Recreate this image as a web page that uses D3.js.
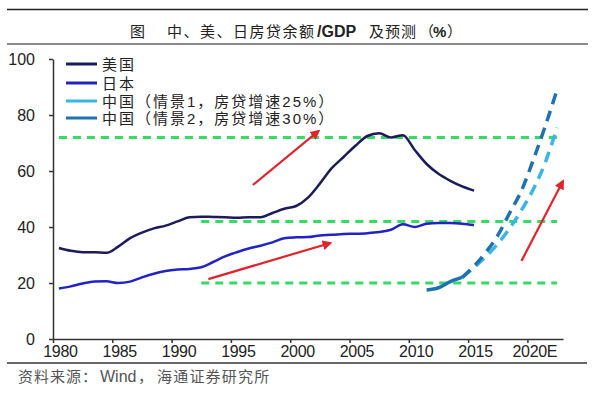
<!DOCTYPE html>
<html><head><meta charset="utf-8">
<script src="https://cdn.jsdelivr.net/npm/d3@7"></script>
<style>
html,body{margin:0;padding:0;background:#fff;}
svg{display:block;}
</style></head>
<body><svg id="c" width="600" height="395"></svg>
<script>
// ---------- data ----------
const usYears = d3.range(1980, 2016);
const usValues = [32.5,31.5,31,31,30.8,33,36,38,39.5,40.5,42,43.5,43.7,43.6,43.5,43.3,43.5,43.5,45,46.5,47.5,50.5,55.5,61,65,69,72.5,73.5,72,72.8,67.5,62.5,59,56.5,54.5,53];
const jpYears = d3.range(1980, 2016);
const jpValues = [18,18.8,19.8,20.5,20.6,20,20.5,22,23.3,24.3,24.8,25,25.6,27.5,29.5,31,32.3,33.3,34.5,36,36.3,36.4,37,37.2,37.5,37.6,37.8,38.2,39,41,40,41.2,41.4,41.4,41.2,40.7];
const cnHistYears = [2011,2012,2013,2014];
const cnHistValues = [17.5,18.3,20.5,22];
const cn1Years = [2014,2015,2016,2017,2018,2019,2020,2021,2022];
const cn1Values = [22,25.5,29.5,34,39.5,46,53.5,63,75.5];
const cn2Years = [2014,2015,2016,2017,2018,2019,2020,2021,2022];
const cn2Values = [22,26,31,37,45,53,64,76,89];
const refLines = [{v:72,from:1980,to:2022},{v:42,from:1992,to:2022},{v:20,from:1992,to:2022}];
const arrows = [
  {x1:1996.85,y1:55,x2:2002.4,y2:74.3},
  {x1:1993.1,y1:21.4,x2:2003.4,y2:34.3},
  {x1:2019.5,y1:27.9,x2:2023.0,y2:56.4}
];
const legendLabels = ["美国","日本","中国（情景1，房贷增速25%）","中国（情景2，房贷增速30%）"];
const yTicks = [0,20,40,60,80,100];
const xTicks = [1980,1985,1990,1995,2000,2005,2010,2015,2020];
const xTickLabels = ["1980","1985","1990","1995","2000","2005","2010","2015","2020E"];

// ---------- styles ----------
const C = {us:"#1d1b5c", jp:"#2323c4", cn1:"#38b6e4", cn2:"#1f72b2", green:"#35dc64", red:"#e3232b", axis:"#333"};
const CJK = "'Liberation Sans','Noto Sans CJK SC'";
const LAT = "'Liberation Sans',Arial";
const svg = d3.select("#c");
const x = d3.scaleLinear().domain([1980,2023]).range([53,563]);
const y = d3.scaleLinear().domain([0,100]).range([339,59]);
const cx = yr => x(yr + 0.5);
const half = (x(1981)-x(1980))/2;

// header rules & title
svg.append("line").attr("x1",7).attr("x2",588).attr("y1",9.5).attr("y2",9.5).attr("stroke","#222").attr("stroke-width",1.3);
svg.append("line").attr("x1",7).attr("x2",588).attr("y1",44).attr("y2",44).attr("stroke","#8a8a8a").attr("stroke-width",2);
const tt = svg.append("text").attr("y",31).attr("dominant-baseline","central").attr("fill","#222");
const titleParts = [
  {t:"图", x:130, f:CJK, s:15, ls:0, w:400},
  {t:"中、美、日房贷余额", x:167, f:CJK, s:15, ls:1.5, w:400},
  {t:"/GDP", x:317, f:LAT, s:16, ls:0, w:700},
  {t:"及预测", x:369, f:CJK, s:15, ls:1, w:400},
  {t:"（", x:419, f:CJK, s:15, ls:0, w:400},
  {t:"%", x:433, f:LAT, s:15, ls:0, w:700},
  {t:"）", x:447, f:CJK, s:15, ls:0, w:400}
];
titleParts.forEach(p=>tt.append("tspan").attr("x",p.x).attr("font-family",p.f).attr("font-size",p.s)
  .attr("letter-spacing",p.ls).attr("font-weight",p.w).text(p.t));

// bottom rule & source
svg.append("line").attr("x1",7).attr("x2",587).attr("y1",363).attr("y2",363).attr("stroke","#333").attr("stroke-width",1.3);
const st = svg.append("text").attr("y",376).attr("dominant-baseline","central").attr("fill","#555");
const srcParts = [
  {t:"资料来源：", x:18, f:CJK, s:15, ls:1},
  {t:"Wind", x:100, f:LAT, s:16, ls:0},
  {t:"，", x:138, f:CJK, s:15, ls:0},
  {t:"海通证券研究所", x:157, f:CJK, s:15, ls:1.2}
];
srcParts.forEach(p=>st.append("tspan").attr("x",p.x).attr("font-family",p.f).attr("font-size",p.s)
  .attr("letter-spacing",p.ls).text(p.t));

// reference green dashed lines
svg.append("g").selectAll("line").data(refLines).join("line")
  .attr("x1",d=>cx(d.from)).attr("x2",d=>cx(d.to)).attr("y1",d=>y(d.v)).attr("y2",d=>y(d.v))
  .attr("stroke",C.green).attr("stroke-width",3).attr("stroke-dasharray","8,6");

// axes
const yAxis = svg.append("g").attr("transform",`translate(${x(1980)},0)`)
  .call(d3.axisLeft(y).tickValues(yTicks).tickSize(4).tickPadding(14).tickSizeOuter(0));
yAxis.selectAll("text").attr("font-family",LAT).attr("font-size",16).attr("fill","#222");
const xAxis = svg.append("g").attr("transform",`translate(0,${y(0)})`)
  .call(d3.axisBottom(x).tickValues(xTicks).tickSize(4).tickPadding(3).tickSizeOuter(0)
    .tickFormat((d,i)=>xTickLabels[i]));
xAxis.selectAll("text").attr("font-family",LAT).attr("font-size",16).attr("fill","#222").attr("dx",half+1).attr("letter-spacing","-0.3");
[yAxis,xAxis].forEach(g=>{g.selectAll("path,line").attr("stroke",C.axis).attr("stroke-width",1.5);});

// lines
const line = d3.line().x(d=>cx(d[0])).y(d=>y(d[1])).curve(d3.curveMonotoneX);
const draw = (ys,vs,color,w,dash)=>{
  const p = svg.append("path").datum(ys.map((yr,i)=>[yr,vs[i]])).attr("d",line)
    .attr("fill","none").attr("stroke",color).attr("stroke-width",w).attr("stroke-linecap","butt").attr("stroke-linejoin","round");
  if(dash) p.attr("stroke-dasharray",dash);
};
draw(usYears,usValues,C.us,2.5);
draw(jpYears,jpValues,C.jp,2.5);
draw(cn1Years,cn1Values,C.cn1,3.5,"11,7");
draw(cn2Years,cn2Values,C.cn2,3.5,"11,7");
draw(cnHistYears,cnHistValues,C.cn2,3.5);

// arrows
const defs = svg.append("defs");
defs.append("marker").attr("id","ah").attr("viewBox","0 0 10 10").attr("refX",8).attr("refY",5)
  .attr("markerWidth",4.5).attr("markerHeight",4.5).attr("orient","auto").attr("markerUnits","strokeWidth")
  .append("path").attr("d","M0,0 L10,5 L0,10 z").attr("fill",C.red);
svg.append("g").selectAll("line").data(arrows).join("line")
  .attr("x1",d=>cx(d.x1-0.5)).attr("y1",d=>y(d.y1)).attr("x2",d=>cx(d.x2-0.5)).attr("y2",d=>y(d.y2))
  .attr("stroke",C.red).attr("stroke-width",2.2).attr("marker-end","url(#ah)");

// legend
const lg = svg.append("g");
const lcol = [C.us,C.jp,C.cn1,C.cn2];
const ly = [64,83,101,118];
legendLabels.forEach((t,i)=>{
  lg.append("line").attr("x1",66).attr("x2",97).attr("y1",ly[i]).attr("y2",ly[i]).attr("stroke",lcol[i]).attr("stroke-width",3);
  lg.append("text").attr("x",102).attr("y",ly[i]).attr("dominant-baseline","central")
    .attr("font-family",CJK).attr("font-size",15).attr("letter-spacing",2).attr("fill","#222").text(t);
});
</script></body></html>
